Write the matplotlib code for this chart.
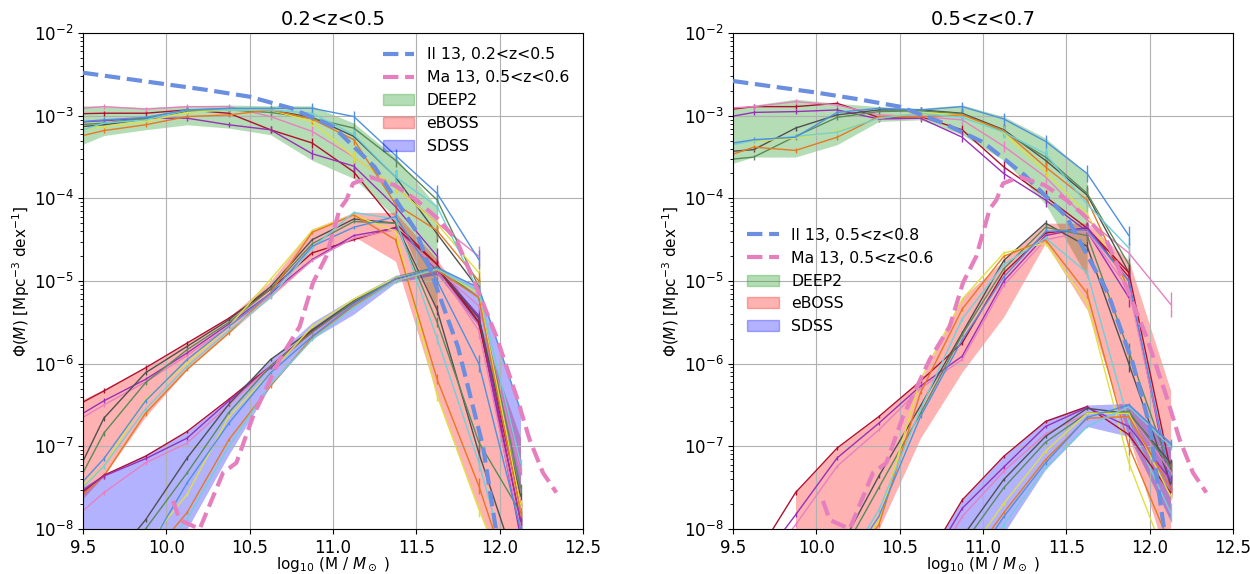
import matplotlib
matplotlib.use('Agg')
import matplotlib.pyplot as plt
import numpy as np
from matplotlib.patches import Patch
from matplotlib.lines import Line2D

nan = np.nan

# mass bins (log10 M), values below are log10(Phi)
mass_bins = [9.375, 9.625, 9.875, 10.125, 10.375, 10.625, 10.875, 11.125, 11.375, 11.625, 11.875, 12.125]
line_colors = ['#b01030', '#9a30b8', '#e880c0', '#505050', '#5a8a5a', '#e0e040', '#e87820', '#70d0d8', '#5090e0']
survey_names = ['DEEP2', 'eBOSS', 'SDSS']
band_colors = ['tab:green', 'red', 'blue']
band_alpha = [0.35, 0.3, 0.3]
err_dex = {
    'DEEP2': [0.03, 0.03, 0.03, 0.03, 0.03, 0.04, 0.06, 0.07, 0.08, 0.1, 0.12, 0.15],
    'eBOSS': [0.04, 0.03, 0.03, 0.02, 0.02, 0.02, 0.02, 0.02, 0.04, 0.06, 0.1, 0.12],
    'SDSS': [0.04, 0.03, 0.02, 0.02, 0.02, 0.02, 0.02, 0.02, 0.02, 0.02, 0.03, 0.05],
}

# ---- left panel 0.2<z<0.5
left_deep2_lo = [-3.45, -3.24, -3.17, -3.11, -3.15, -3.23, -3.54, -3.76, -4.23, -5.35, nan, nan]
left_deep2_hi = [-2.88, -2.88, -2.9, -2.88, -2.87, -2.88, -2.88, -3.09, -3.5, -4.1, nan, nan]
left_deep2_lines = [
    [-2.98, -2.97, -2.97, -2.93, -2.97, -3.17, -3.33, -3.68, -4.3, -4.8, nan, nan],
    [-3.09, -3.06, -3.03, -3.03, -3.11, -3.17, -3.46, -3.61, -4.1, -4.7, nan, nan],
    [-2.93, -2.89, -2.92, -2.89, -2.89, -3.01, -3.19, -3.5, -3.86, -4.3, -4.7, nan],
    [-3.15, -3.11, -3.04, -2.93, -2.92, -2.93, -3.02, -3.25, -3.74, -4.43, -5.1, nan],
    [-3.12, -3.09, -3.03, -2.95, -2.93, -2.96, -3.03, -3.15, -3.54, -4.02, -5.07, nan],
    [-3.2, -3.13, -3.07, -2.96, -2.93, -2.93, -3.07, -3.5, -3.86, -4.31, -4.9, nan],
    [-3.3, -3.18, -3.11, -3.01, -2.99, -2.93, -3.04, -3.29, -4.07, -4.39, -5.0, nan],
    [-3.25, -3.09, -3.05, -2.93, -2.93, -2.93, -2.97, -3.23, -3.74, -4.1, -5.13, nan],
    [-3.09, -3.05, -3.02, -2.93, -2.91, -2.91, -2.91, -3.01, -3.48, -3.94, -4.74, nan],
]
left_eboss_lo = [-7.9, -7.36, -6.64, -6.07, -5.63, -5.2, -4.75, -4.46, -4.76, -6.39, -7.76, -9.0]
left_eboss_hi = [-6.55, -6.31, -6.05, -5.75, -5.44, -5.0, -4.37, -4.17, -4.17, -4.74, -5.47, -6.9]
left_eboss_lines = [
    [-6.6, -6.33, -6.05, -5.75, -5.45, -5.1, -4.66, -4.5, -4.35, -4.8, -5.5, -7.9],
    [-6.75, -6.45, -6.19, -5.87, -5.52, -5.15, -4.74, -4.45, -4.36, -4.87, -5.43, -8.1],
    [-6.8, -6.5, -6.22, -5.9, -5.55, -5.18, -4.75, -4.48, -4.38, -4.85, -5.6, -8.0],
    [-7.7, -6.66, -6.11, -5.79, -5.47, -5.07, -4.5, -4.25, -4.3, -5.35, -7.08, -8.6],
    [-7.8, -6.84, -6.23, -5.83, -5.5, -5.1, -4.55, -4.28, -4.3, -5.5, -6.95, -7.8],
    [-7.7, -7.24, -6.43, -5.99, -5.55, -4.98, -4.39, -4.2, -4.4, -6.39, -7.76, -9.0],
    [-7.8, -7.36, -6.6, -6.07, -5.63, -5.14, -4.41, -4.2, -4.5, -6.19, -7.48, -9.0],
    [-7.75, -7.24, -6.55, -6.03, -5.6, -5.2, -4.6, -4.17, -4.25, -5.7, -7.2, -9.0],
    [-7.7, -7.15, -6.45, -5.95, -5.55, -5.15, -4.58, -4.35, -4.22, -5.0, -6.0, -8.0],
]
left_sdss_lo = [-9.0, -9.0, -9.0, -8.0, -7.1, -6.27, -5.7, -5.4, -5.02, -4.92, -5.55, -7.6]
left_sdss_hi = [-7.65, -7.34, -7.1, -6.82, -6.43, -5.95, -5.5, -5.2, -4.93, -4.82, -5.08, -6.56]
left_sdss_lines = [
    [-7.75, -7.35, -7.12, -6.82, -6.43, -6.03, -5.6, -5.25, -4.98, -4.85, -5.5, -7.7],
    [-7.7, -7.36, -7.15, -6.9, -6.45, -6.05, -5.62, -5.26, -4.97, -4.84, -5.42, -7.9],
    [-8.0, -7.56, -7.2, -6.96, -6.5, -6.03, -5.63, -5.28, -4.99, -4.86, -5.3, -7.3],
    [-9.0, -8.5, -7.89, -7.14, -6.49, -5.95, -5.59, -5.24, -4.97, -4.84, -5.45, -7.6],
    [-9.0, -8.6, -8.0, -7.32, -6.59, -6.03, -5.62, -5.25, -4.96, -4.83, -5.2, -7.5],
    [-9.2, -8.8, -8.2, -7.58, -6.64, -6.11, -5.55, -5.22, -4.96, -4.85, -5.15, -7.7],
    [-9.3, -9.0, -8.4, -7.8, -6.92, -6.27, -5.68, -5.3, -5.0, -4.87, -5.2, -7.8],
    [-9.3, -9.0, -8.5, -7.88, -7.0, -6.25, -5.71, -5.32, -5.0, -4.86, -5.12, -7.2],
    [-9.2, -8.9, -8.3, -7.44, -6.72, -6.11, -5.67, -5.28, -4.97, -4.84, -5.08, -6.56],
]
left_il13_m = [9.5, 9.75, 10.0, 10.25, 10.5, 10.75, 11.0, 11.25, 11.5, 11.75, 11.9, 12.0]
left_il13_phi = [-2.48, -2.55, -2.62, -2.69, -2.77, -2.91, -3.13, -3.62, -4.4, -5.8, -7.0, -8.3]

# ---- right panel 0.5<z<0.7
right_deep2_lo = [-3.65, -3.5, -3.5, -3.35, -3.07, -3.05, -3.23, -3.54, -4.07, -4.95, nan, nan]
right_deep2_hi = [-2.95, -2.87, -2.8, -2.85, -2.89, -2.91, -2.87, -3.01, -3.27, -3.7, nan, nan]
right_deep2_lines = [
    [-2.95, -2.89, -2.89, -2.85, -3.02, -3.01, -3.17, -3.62, -3.98, -4.36, -4.95, nan],
    [-3.05, -2.96, -2.95, -2.93, -3.04, -3.03, -3.26, -3.7, -4.02, -4.4, -5.2, nan],
    [-2.92, -2.89, -2.83, -2.87, -2.99, -3.01, -3.05, -3.37, -3.74, -4.26, -4.66, -5.28],
    [-3.45, -3.41, -3.15, -2.99, -2.93, -2.93, -2.97, -3.17, -3.54, -3.96, -4.9, nan],
    [-3.55, -3.5, -3.25, -3.02, -2.95, -2.94, -2.98, -3.2, -3.5, -3.94, -4.8, nan],
    [-3.35, -3.31, -3.27, -3.19, -3.03, -2.96, -2.99, -3.21, -3.68, -4.19, -5.1, nan],
    [-3.55, -3.38, -3.42, -3.26, -3.01, -3.01, -2.99, -3.18, -3.62, -4.02, -5.1, nan],
    [-3.4, -3.3, -3.25, -3.2, -3.03, -2.97, -3.02, -3.2, -3.46, -4.07, -4.6, nan],
    [-3.37, -3.29, -3.26, -2.96, -2.91, -2.93, -2.89, -3.04, -3.31, -3.7, -4.45, nan],
]
right_eboss_lo = [nan, nan, -8.5, -8.3, -8.0, -6.9, -6.1, -5.43, -4.54, -5.35, -6.88, -8.5]
right_eboss_hi = [nan, nan, -7.56, -7.02, -6.64, -6.2, -5.2, -4.75, -4.3, -4.3, -4.75, -6.32]
right_eboss_lines = [
    [nan, -8.37, -7.56, -7.02, -6.64, -6.21, -5.75, -4.9, -4.42, -4.36, -4.9, -7.28],
    [nan, -8.5, -7.83, -7.14, -6.72, -6.27, -5.91, -5.0, -4.45, -4.35, -5.0, -7.5],
    [nan, -8.6, -7.95, -7.24, -6.8, -6.3, -5.95, -5.05, -4.5, -4.4, -5.1, -7.4],
    [nan, nan, -9.0, -8.3, -7.36, -6.51, -5.63, -4.75, -4.3, -4.58, -6.0, -7.45],
    [nan, nan, -9.0, -8.4, -7.5, -6.6, -5.65, -4.85, -4.35, -4.45, -5.85, -7.3],
    [nan, nan, -9.2, -8.6, -7.9, -6.19, -5.22, -4.66, -4.54, -5.27, -7.2, -8.5],
    [nan, nan, -9.2, -8.6, -7.95, -6.35, -5.34, -4.7, -4.5, -5.15, -7.0, -8.2],
    [nan, nan, -9.2, -8.6, -7.77, -6.55, -5.46, -4.8, -4.48, -4.9, -6.71, -7.8],
    [nan, nan, -9.2, -8.6, -7.85, -6.64, -5.71, -4.95, -4.4, -4.38, -5.0, -7.4],
]
right_sdss_lo = [nan, nan, nan, nan, nan, -9.0, -8.6, -8.05, -7.28, -6.76, -6.88, -7.9]
right_sdss_hi = [nan, nan, nan, nan, nan, -8.5, -7.65, -7.12, -6.68, -6.5, -6.48, -6.96]
right_sdss_lines = [
    [nan, nan, nan, nan, nan, -8.5, -7.65, -7.12, -6.7, -6.52, -6.86, -7.56],
    [nan, nan, nan, nan, nan, -8.6, -7.75, -7.25, -6.76, -6.53, -6.76, -7.4],
    [nan, nan, nan, nan, nan, -8.7, -7.85, -7.3, -6.85, -6.6, -6.6, -7.3],
    [nan, nan, nan, nan, nan, -8.9, -8.1, -7.4, -6.88, -6.54, -6.6, -7.2],
    [nan, nan, nan, nan, nan, -9.0, -8.2, -7.5, -6.95, -6.6, -6.58, -7.25],
    [nan, nan, nan, nan, nan, -9.2, -8.4, -7.69, -7.06, -6.6, -6.6, -7.6],
    [nan, nan, nan, nan, nan, -9.2, -8.5, -7.8, -7.16, -6.66, -6.64, -7.5],
    [nan, nan, nan, nan, nan, -9.3, -8.7, -7.95, -7.26, -6.76, -6.52, -7.0],
    [nan, nan, nan, nan, nan, -9.3, -8.6, -7.85, -7.2, -6.65, -6.5, -6.96],
]
right_il13_m = [9.5, 9.75, 10.0, 10.25, 10.5, 10.75, 11.0, 11.25, 11.5, 11.75, 11.9, 12.0, 12.1]
right_il13_phi = [-2.58, -2.65, -2.72, -2.8, -2.89, -3.08, -3.32, -3.72, -4.22, -5.15, -6.0, -6.75, -8.2]

# Ma 13 (same curve in both panels)
ma13_m = [10.04, 10.08, 10.2, 10.34, 10.42, 10.52, 10.68, 10.8, 10.88, 10.96, 11.04, 11.08, 11.12,
          11.22, 11.37, 11.5, 11.62, 11.74, 11.86, 11.98, 12.1, 12.18, 12.26, 12.34]
ma13_phi = [-7.66, -7.89, -8.0, -7.32, -7.2, -6.64, -5.95, -5.55, -5.02, -4.7, -4.13, -4.02, -3.82,
            -3.74, -3.84, -4.02, -4.23, -4.5, -5.07, -5.67, -6.39, -6.92, -7.32, -7.56]


def draw_panel(ax, bands, lines, il13_m, il13_phi, il13_label, title, legend_loc):
    m = np.array(mass_bins)
    for k, name in enumerate(survey_names):
        lo, hi = bands[k]
        ax.fill_between(m, 10**np.array(lo), 10**np.array(hi),
                        color=band_colors[k], alpha=band_alpha[k], lw=0)
        e = np.array(err_dex[name])
        for j, vals in enumerate(lines[k]):
            y = 10**np.array(vals)
            yerr = [y - y * 10**(-e), y * 10**e - y]
            ax.errorbar(m, y, yerr=yerr, color=line_colors[j], lw=1, elinewidth=1)
    ax.plot(il13_m, 10**np.array(il13_phi), '--', color='#6a8ee0', lw=3, zorder=4)
    ax.plot(ma13_m, 10**np.array(ma13_phi), '--', color='#e67fbe', lw=3, zorder=4)

    ax.set_yscale('log')
    ax.set_xlim(9.5, 12.5)
    ax.set_ylim(1e-8, 1e-2)
    ax.grid(True, which='major')
    ax.set_title(title, fontsize=14)
    ax.set_xlabel(r'log$_{10}$ (M / $M_\odot$ )', fontsize=11, labelpad=-1)
    ax.set_ylabel(r'$\Phi(M)$ [Mpc$^{-3}$ dex$^{-1}$]', fontsize=11, labelpad=1)
    ax.tick_params(labelsize=12)

    handles = [Line2D([], [], ls='--', color='#6a8ee0', lw=3),
               Line2D([], [], ls='--', color='#e67fbe', lw=3)]
    for k in range(3):
        handles.append(Patch(facecolor=band_colors[k], alpha=band_alpha[k],
                             edgecolor=band_colors[k]))
    labels = [il13_label, 'Ma 13, 0.5<z<0.6'] + survey_names
    leg = ax.legend(handles, labels, loc=legend_loc, frameon=False, fontsize=11.3)
    leg.set_zorder(6)


fig = plt.figure(figsize=(12.5, 5.74), dpi=100)
ax1 = fig.add_axes([0.0664, 0.0784, 0.4, 0.864])
ax2 = fig.add_axes([0.5864, 0.0784, 0.4, 0.864])

draw_panel(ax1,
           [(left_deep2_lo, left_deep2_hi), (left_eboss_lo, left_eboss_hi), (left_sdss_lo, left_sdss_hi)],
           [left_deep2_lines, left_eboss_lines, left_sdss_lines],
           left_il13_m, left_il13_phi, 'Il 13, 0.2<z<0.5', '0.2<z<0.5', 'upper right')
draw_panel(ax2,
           [(right_deep2_lo, right_deep2_hi), (right_eboss_lo, right_eboss_hi), (right_sdss_lo, right_sdss_hi)],
           [right_deep2_lines, right_eboss_lines, right_sdss_lines],
           right_il13_m, right_il13_phi, 'Il 13, 0.5<z<0.8', '0.5<z<0.7', 'center left')

fig.savefig('out.png', dpi=100)
